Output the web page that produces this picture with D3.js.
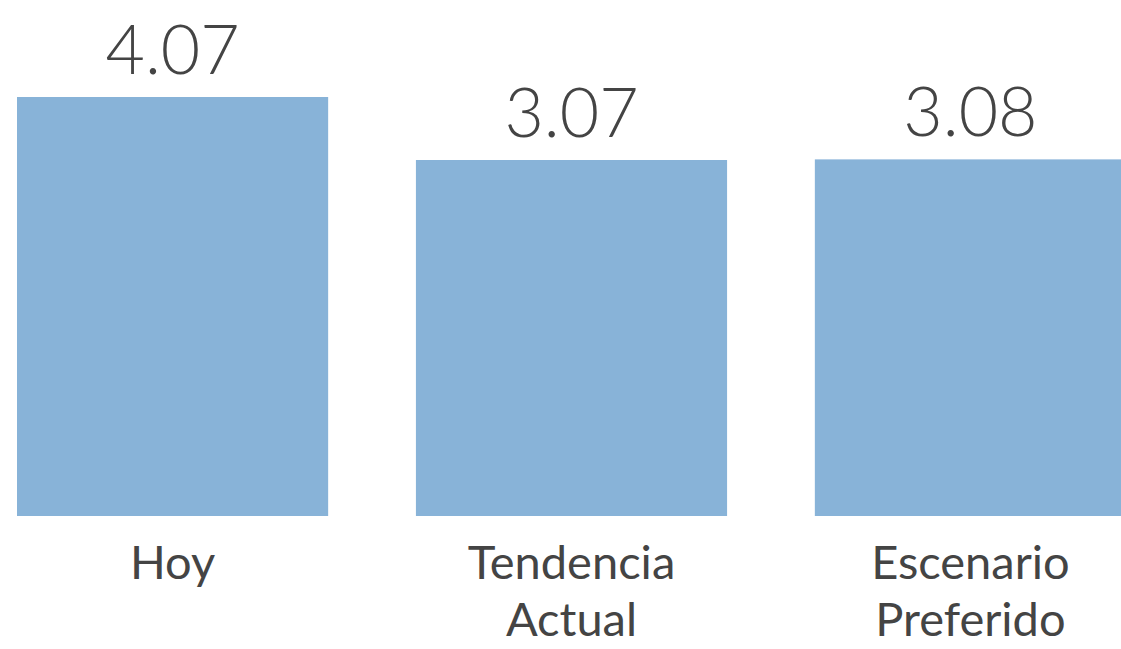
<!DOCTYPE html>
<html>
<meta charset="UTF-8">
<script src="https://d3js.org/d3.v7.min.js"></script>
<style>
  body { margin: 0; background: #fff; }
</style>
<body>
<div id="id_chart"></div>
<script>

var categories = ["Hoy", "Tendencia\nActual", "Escenario\nPreferido"];
var values = [4.07, 3.07, 3.08];
var valueLabels = ["4.07", "3.07", "3.08"];

var width = 1121,
    height = 649;

var svg = d3.select("#id_chart")
  .append("svg")
    .attr("width", width)
    .attr("height", height);

// bars do not start from zero in the original
var x = d3.scaleBand()
  .domain(categories)
  .range([17, 1126])
  .paddingInner(0.22)
  .paddingOuter(0);

var y = d3.scaleLinear()
  .domain([-2.58, 4.07])
  .range([516, 97]);

// Bars
svg.selectAll("rect.bar")
  .data(values)
  .enter()
  .append("rect")
    .attr("class", "bar")
    .attr("x", function(d, i) { return x(categories[i]); })
    .attr("width", x.bandwidth())
    .attr("y", function(d) { return y(d); })
    .attr("height", function(d) { return y.range()[0] - y(d); })
    .attr("fill", "#88b3d8");

// value labels
svg.selectAll("text.val")
  .data(values)
  .enter()
  .append("text")
    .attr("class", "val")
    .attr("x", function(d, i) { return x(categories[i]) + x.bandwidth() / 2; })
    .attr("y", function(d) { return y(d) - 23; })
    .attr("text-anchor", "middle")
    .style("font-family", "Lato")
    .style("font-weight", "300")
    .style("font-size", "68px")
    .style("fill", "#444")
    .text(function(d, i) { return valueLabels[i]; });

// category labels
var cat = svg.selectAll("text.cat")
  .data(categories)
  .enter()
  .append("text")
    .attr("class", "cat")
    .attr("x", function(d) { return x(d) + x.bandwidth() / 2; })
    .attr("y", 579)
    .attr("text-anchor", "middle")
    .style("font-family", "Lato")
    .style("font-size", "47px")
    .style("fill", "#444");

cat.selectAll("tspan")
  .data(function(d) { return d.split("\n"); })
  .enter()
  .append("tspan")
    .attr("x", function() { var p = this.parentNode; return p.getAttribute("x"); })
    .attr("dy", function(d, i) { return i === 0 ? 0 : 57; })
    .text(function(d) { return d; });

</script>
</body>
</html>
